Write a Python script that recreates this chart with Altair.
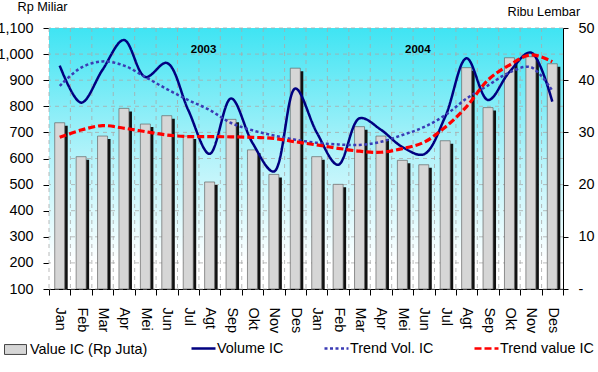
import altair as alt
import pandas as pd

# Months of 2003 and 2004 (Indonesian abbreviations)
months = ["Jan", "Feb", "Mar", "Apr", "Mei", "Jun", "Jul", "Agt", "Sep", "Okt", "Nov", "Des"]
years = ["03", "04"]
periods = [f"{m}-{y}" for y in years for m in months]

# Value IC (left axis, Rp Miliar)
value_ic = [737, 607, 686, 792, 732, 764, 686, 510, 750, 633, 539, 946,
            607, 501, 722, 686, 593, 576, 668, 948, 795, 986, 990, 963]
# Volume IC (right axis, Ribu Lembar)
volume_ic = [42.8, 35.7, 42.0, 47.7, 40.6, 43.3, 34.3, 25.9, 36.5, 28.0, 22.5, 38.4,
             30.0, 23.8, 32.7, 30.5, 27.2, 25.8, 33.0, 44.2, 36.2, 41.6, 45.3, 35.9]
# Trend of volume (right axis)
trend_vol = [38.9, 42.4, 43.6, 42.8, 40.6, 38.3, 36.2, 34.3, 31.8, 30.4, 29.4, 28.6,
             28.0, 27.7, 27.6, 28.2, 29.5, 31.0, 33.3, 36.5, 39.0, 41.5, 42.5, 38.0]
# Trend of value (left axis)
trend_value = [681, 709, 726, 716, 703, 690, 684, 684, 683, 681, 677, 664,
               652, 639, 628, 624, 638, 662, 720, 799, 901, 958, 997, 971]

left_ticks = list(range(100, 1101, 100))
right_ticks = [0, 10, 20, 30, 40, 50]

year_labels = ["2003", "2004"]
year_anchor = ["Agt-03", "Jun-04"]

bar_name = "Value IC (Rp Juta)"
line_names = ["Volume IC", "Trend Vol. IC", "Trend value IC"]
line_colors = ["#000080", "#3b3bb5", "#ff0000"]
line_dashes = [[1, 0], [3, 2.5], [7, 3]]

W, H = 514, 261
BAND = W / len(periods)
FONT = "Liberation Sans"
GRID = "#a9a9a9"
LABEL_SIZE = 14.4

bars_df = pd.DataFrame({"period": periods, "value": value_ic, "series": bar_name})
right_df = pd.DataFrame({
    "period": periods * 2,
    "v": volume_ic + trend_vol,
    "series": [line_names[0]] * 24 + [line_names[1]] * 24,
})
red_df = pd.DataFrame({"period": periods, "v": trend_value, "series": line_names[2]})
year_df = pd.DataFrame({"period": year_anchor, "label": year_labels, "y": [1015, 1015]})
hgrid_df = pd.DataFrame({"y": left_ticks})
vgrid_df = pd.DataFrame({"period": periods})

x_enc = alt.X(
    "period:N", sort=periods, title=None,
    scale=alt.Scale(paddingInner=0, paddingOuter=0),
    axis=alt.Axis(
        labelAngle=90, labelExpr="split(datum.label, '-')[0]",
        labelFontSize=LABEL_SIZE, labelColor="black", labelPadding=12,
        tickBand="extent", tickSize=6, tickColor="black",
        domainColor="black", grid=False,
    ),
)

left_scale = alt.Scale(domain=[100, 1100], nice=False, zero=False)
left_axis = alt.Axis(
    values=left_ticks, labelExpr="format(datum.value, ',.0f')",
    title="Rp Miliar", titleAngle=0, titleAlign="left", titleBaseline="alphabetic",
    titleX=-32, titleY=-18, titleFontSize=12.7, titleFontWeight="normal",
    labelFontSize=LABEL_SIZE, labelColor="black", tickSize=6, tickColor="black",
    domainColor="black", labelPadding=10, grid=False,
)

line_legend = alt.Legend(
    title=None, orient="none", direction="horizontal", columns=3,
    legendX=141, legendY=307, symbolType="stroke", symbolSize=576,
    symbolStrokeWidth=2.5, labelFontSize=LABEL_SIZE, labelOffset=0,
    columnPadding=35, labelLimit=300, labelColor="black",
)
color_enc = alt.Color(
    "series:N", scale=alt.Scale(domain=line_names, range=line_colors), legend=line_legend
)
dash_enc = alt.StrokeDash(
    "series:N", scale=alt.Scale(domain=line_names, range=line_dashes), legend=line_legend
)

# plot-area background: cyan fading to white
background = alt.Chart(pd.DataFrame({"k": [0]})).mark_rect(
    fill=alt.LinearGradient(
        gradient="linear", x1=0, y1=0, x2=0, y2=1,
        stops=[
            alt.GradientStop(offset=0, color="#3fe4f3"),
            alt.GradientStop(offset=0.5, color="#b5f3fa"),
            alt.GradientStop(offset=0.9, color="#ffffff"),
        ],
    )
).encode(x=alt.value(0), x2=alt.value(W), y=alt.value(0), y2=alt.value(H))

# dashed grid: horizontal at each left tick, vertical at month boundaries
hgrid = alt.Chart(hgrid_df).mark_rule(color=GRID, strokeDash=[4, 4], strokeWidth=0.8).encode(
    y=alt.Y("y:Q", scale=left_scale, axis=left_axis)
)
vgrid = alt.Chart(vgrid_df).mark_rule(
    color=GRID, strokeDash=[4, 4], strokeWidth=0.8, xOffset=-BAND / 2
).encode(x=x_enc)

# bar shadows
shadow = alt.Chart(bars_df).mark_bar(
    size=10, color="#111111", xOffset=3, yOffset=3, clip=True
).encode(
    x=x_enc,
    y=alt.Y("value:Q", scale=left_scale, axis=left_axis),
    y2=alt.datum(100),
)

bars = alt.Chart(bars_df).mark_bar(
    size=10, stroke="#666666", strokeWidth=0.7, clip=True
).encode(
    x=x_enc,
    y=alt.Y("value:Q", scale=left_scale, axis=left_axis),
    y2=alt.datum(100),
    fill=alt.Fill(
        "series:N",
        scale=alt.Scale(domain=[bar_name], range=["#d6d6d6"]),
        legend=alt.Legend(
            title=None, orient="none", legendX=-45, legendY=310,
            symbolType="M-1,-0.45H1V0.45H-1Z", symbolSize=484,
            symbolStrokeColor="#444444", symbolStrokeWidth=1,
            labelFontSize=LABEL_SIZE, labelOffset=3, labelLimit=300, labelColor="black",
        ),
    ),
)

year_text = alt.Chart(year_df).mark_text(
    fontWeight="bold", fontSize=11.5, dx=-6, baseline="middle", color="black"
).encode(
    x=x_enc,
    y=alt.Y("y:Q", scale=left_scale, axis=left_axis),
    text="label:N",
)

left = alt.layer(background, hgrid, vgrid, shadow, bars, year_text)

right = alt.Chart(right_df).mark_line(
    interpolate="catmull-rom", strokeWidth=2.5
).encode(
    x=x_enc,
    y=alt.Y(
        "v:Q",
        scale=alt.Scale(domain=[0, 50], nice=False),
        axis=alt.Axis(
            orient="right", values=right_ticks,
            labelExpr="datum.value == 0 ? '-' : datum.label",
            title="Ribu Lembar", titleAngle=0, titleAlign="left",
            titleBaseline="alphabetic", titleX=-56, titleY=-13,
            titleFontSize=12.7, titleFontWeight="normal",
            labelFontSize=LABEL_SIZE, labelColor="black", labelPadding=10,
            tickSize=5, tickColor="black", domainColor="black", grid=False,
        ),
    ),
    color=color_enc,
    strokeDash=dash_enc,
)

red = alt.Chart(red_df).mark_line(
    interpolate="catmull-rom", strokeWidth=3.2
).encode(
    x=x_enc,
    y=alt.Y("v:Q", scale=left_scale, axis=None),
    color=color_enc,
    strokeDash=dash_enc,
)

chart = alt.layer(left, right, red).resolve_scale(y="independent").properties(
    width=W, height=H,
    autosize=alt.AutoSizeParams(type="none"),
    padding={"left": 49, "top": 28, "right": 35, "bottom": 83},
    background="white",
).configure_view(
    stroke="#8c8c8c", strokeWidth=1,
).configure(font=FONT)

chart.save("out.html", embed_options={"renderer": "svg", "actions": False})
